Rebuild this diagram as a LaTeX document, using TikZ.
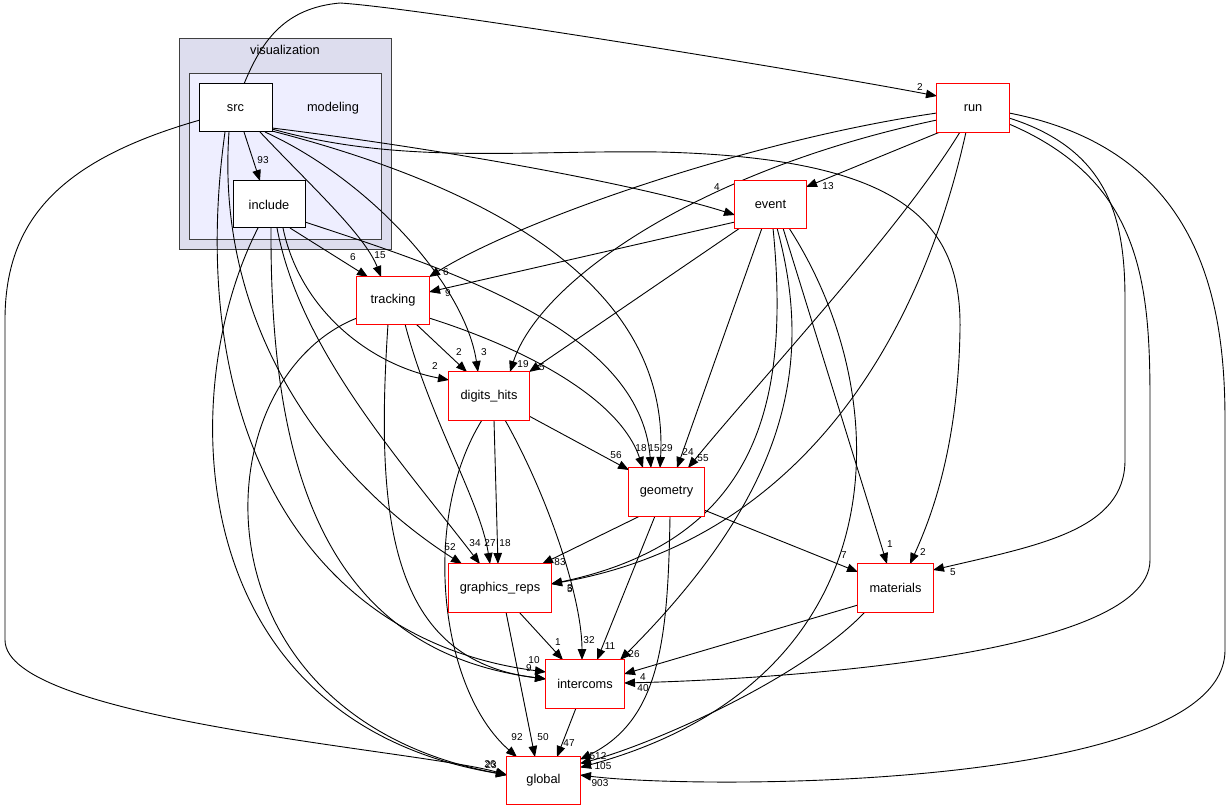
\documentclass[tikz,border=0pt]{standalone}
\usepackage{fontspec}
\setmainfont{Liberation Sans}
\usetikzlibrary{arrows.meta,calc}
\definecolor{clusterA}{HTML}{DDDDEE}
\definecolor{clusterB}{HTML}{EEEEFF}
\definecolor{clusterline}{HTML}{404040}
\definecolor{dirred}{HTML}{FF0000}
\pgfdeclarelayer{back}
\pgfdeclarelayer{edges}
\pgfdeclarelayer{front}
\pgfsetlayers{back,edges,main,front}
\tikzset{
 dirbox/.style={fill=white, text=black, inner sep=0pt, font=\fontsize{12.8}{14}\selectfont},
 ownbox/.style={draw=black, line width=1pt, fill=white, inner sep=0pt, font=\fontsize{12.8}{14}\selectfont},
 redframe/.style={draw=dirred, color=dirred, line width=1.1pt},
 clusterbox/.style={draw=clusterline, line width=1pt, inner sep=0pt, anchor=north west},
 clustertext/.style={inner sep=0pt, font=\fontsize{12.8}{14}\selectfont},
 dep/.style={draw=black, line width=0.9pt, -{Triangle[length=11pt,width=8.5pt]}},
 lab/.style={inner sep=0pt, font=\fontsize{10}{12}\selectfont},
}
\begin{document}
\begin{tikzpicture}[x=1pt,y=-1pt]
\useasboundingbox (0,0) rectangle (1232,810);
\begin{pgfonlayer}{back}
\fill[white] (0,0) rectangle (1232,810);
\node[clusterbox, fill=clusterA, minimum width=212pt, minimum height=211pt] (vis) at (179,38) {};
\node[clustertext] (vislabel) at (285,50) {visualization};
\node[clusterbox, fill=clusterB, minimum width=192pt, minimum height=166pt] (modcl) at (189,73) {};
\node[clustertext] (modlabel) at (333,108) {modeling};
\end{pgfonlayer}
% nodes
\node[ownbox, minimum width=73pt, minimum height=48pt] (src) at (235.5,108) {src};
\node[ownbox, minimum width=72pt, minimum height=47pt] (include) at (269,204.5) {include};
\node[dirbox, minimum width=72pt, minimum height=47pt] (tracking) at (393,300.5) {tracking};
\node[dirbox, minimum width=80pt, minimum height=48pt] (digits_hits) at (489,396) {digits\_hits};
\node[dirbox, minimum width=75pt, minimum height=48pt] (geometry) at (666.5,492) {geometry};
\node[dirbox, minimum width=102pt, minimum height=48pt] (graphics_reps) at (500,588) {graphics\_reps};
\node[dirbox, minimum width=78pt, minimum height=48pt] (intercoms) at (585,684) {intercoms};
\node[dirbox, minimum width=73pt, minimum height=47pt] (global) at (543.5,780.5) {global};
\node[dirbox, minimum width=75pt, minimum height=48pt] (materials) at (895.5,588) {materials};
\node[dirbox, minimum width=72pt, minimum height=48pt] (run) at (973,108) {run};
\node[dirbox, minimum width=71pt, minimum height=47pt] (event) at (770.5,204.5) {event};
\begin{pgfonlayer}{front}
\foreach \n in {tracking,digits_hits,geometry,graphics_reps,intercoms,global,materials,run,event}
  \draw[redframe] (\n.north west) rectangle (\n.south east);
\end{pgfonlayer}
\begin{pgfonlayer}{edges}
% edges from src
\draw[dep] ($(src)+(8.5,24)$) -- ($(include)+(-9,-23.5)$);
\draw[dep] ($(src)+(8.5,-24)$) .. controls (262,40) and (285,8) .. (340,3) .. controls (420,8) and (800,70) .. ($(run)+(-36,-12)$);
\draw[dep] ($(src)+(36.5,20)$) .. controls (450,150) and (640,185) .. ($(event)+(-35.5,10.5)$);
\draw[dep] ($(src)+(36.5,21)$) .. controls (400,165) and (520,150) .. (660,152) .. controls (900,158) and (962,220) .. (960,330) .. controls (958,450) and (930,520) .. ($(materials)+(14.5,-24)$);
\draw[dep] ($(src)+(36.5,23)$) .. controls (500,190) and (670,290) .. ($(geometry)+(-6.5,-24)$);
\draw[dep] ($(src)+(29.5,24)$) .. controls (370,180) and (465,285) .. ($(digits_hits)+(-11,-24)$);
\draw[dep] ($(src)+(24.5,24)$) .. controls (310,185) and (365,235) .. ($(tracking)+(-12,-23.5)$);
\draw[dep] ($(src)+(-6.5,24)$) .. controls (215,330) and (330,480) .. ($(graphics_reps)+(-38,-24)$);
\draw[dep] ($(src)+(-10.5,24)$) .. controls (185,420) and (300,640) .. ($(intercoms)+(-39,-12)$);
\draw[dep] ($(src)+(-35.5,12)$) .. controls (60,160) and (5,220) .. (5,320) -- (5,640) .. controls (5,720) and (420,750) .. ($(global)+(-36.5,-5.5)$);
% edges from include
\draw[dep] ($(include)+(21,23.5)$) -- ($(tracking)+(-25,-23.5)$);
\draw[dep] ($(include)+(36,17.5)$) .. controls (450,270) and (640,330) .. ($(geometry)+(-15.5,-24)$);
\draw[dep] ($(include)+(14,23.5)$) .. controls (300,310) and (370,365) .. ($(digits_hits)+(-40,-16)$);
\draw[dep] ($(include)+(8,23.5)$) .. controls (300,350) and (400,460) .. ($(graphics_reps)+(-20,-24)$);
\draw[dep] ($(include)+(2,23.5)$) .. controls (270,460) and (320,650) .. ($(intercoms)+(-39,-5)$);
\draw[dep] ($(include)+(-11,23.5)$) .. controls (175,390) and (180,720) .. ($(global)+(-36.5,-5.5)$);
% edges from tracking
\draw[dep] ($(tracking)+(23,23.5)$) -- ($(digits_hits)+(-22,-24)$);
\draw[dep] ($(tracking)+(12,23.5)$) .. controls (430,420) and (480,500) .. ($(graphics_reps)+(-10,-24)$);
\draw[dep] ($(tracking)+(36,17.5)$) .. controls (530,350) and (620,400) .. ($(geometry)+(-23.5,-24)$);
\draw[dep] ($(tracking)+(-5,23.5)$) .. controls (375,520) and (390,660) .. ($(intercoms)+(-39,-5)$);
\draw[dep] ($(tracking)+(-36,17.5)$) .. controls (200,380) and (185,715) .. ($(global)+(-36.5,-5.5)$);
% edges from digits_hits
\draw[dep] ($(digits_hits)+(40,20)$) -- ($(geometry)+(-37.5,-22)$);
\draw[dep] ($(digits_hits)+(5,24)$) -- ($(graphics_reps)+(-2,-24)$);
\draw[dep] ($(digits_hits)+(16,24)$) .. controls (550,500) and (582,600) .. ($(intercoms)+(-3,-24)$);
\draw[dep] ($(digits_hits)+(-7,24)$) .. controls (420,520) and (440,690) .. ($(global)+(-26.5,-23.5)$);
% edges from geometry
\draw[dep] ($(geometry)+(-26.5,24)$) -- ($(graphics_reps)+(42,-24)$);
\draw[dep] ($(geometry)+(-11.5,24)$) -- ($(intercoms)+(12,-24)$);
\draw[dep] ($(geometry)+(37.5,18)$) -- ($(materials)+(-37.5,-16)$);
\draw[dep] ($(geometry)+(3.5,24)$) .. controls (668,640) and (660,720) .. ($(global)+(36.5,-21)$);
% graphics_reps, intercoms
\draw[dep] ($(graphics_reps)+(19,24)$) -- ($(intercoms)+(-22,-24)$);
\draw[dep] ($(graphics_reps)+(6,24)$) -- ($(global)+(-8.5,-23.5)$);
\draw[dep] ($(intercoms)+(-9,24)$) -- ($(global)+(13.5,-23.5)$);
% materials
\draw[dep] ($(materials)+(-37.5,17)$) -- ($(intercoms)+(39,-10)$);
\draw[dep] ($(materials)+(-30.5,24)$) .. controls (800,680) and (650,745) .. ($(global)+(36.5,-17)$);
% event
\draw[dep] ($(event)+(-35.5,17.5)$) -- ($(tracking)+(36,-8.5)$);
\draw[dep] ($(event)+(-30.5,23.5)$) -- ($(digits_hits)+(40,-24)$);
\draw[dep] ($(event)+(-8.5,23.5)$) -- ($(geometry)+(10.5,-24)$);
\draw[dep] ($(event)+(2.5,23.5)$) .. controls (790,400) and (760,540) .. ($(graphics_reps)+(51,-4)$);
\draw[dep] ($(event)+(6.5,23.5)$) .. controls (810,350) and (800,480) .. ($(intercoms)+(35,-24)$);
\draw[dep] ($(event)+(12.5,23.5)$) -- ($(materials)+(-8.5,-24)$);
\draw[dep] ($(event)+(18.5,23.5)$) .. controls (900,400) and (900,680) .. ($(global)+(36.5,-13)$);
% run
\draw[dep] ($(run)+(-36,5)$) .. controls (750,140) and (520,220) .. ($(tracking)+(36,-23.5)$);
\draw[dep] ($(run)+(-36,12)$) .. controls (700,170) and (540,280) .. ($(digits_hits)+(21,-24)$);
\draw[dep] ($(run)+(-33,24)$) -- ($(event)+(35.5,-17.5)$);
\draw[dep] ($(run)+(-13,24)$) .. controls (900,230) and (760,380) .. ($(geometry)+(21.5,-24)$);
\draw[dep] ($(run)+(-7,24)$) .. controls (920,340) and (800,540) .. ($(graphics_reps)+(51,-4)$);
\draw[dep] ($(run)+(36,10)$) .. controls (1110,150) and (1125,220) .. (1125,300) -- (1125,460) .. controls (1125,530) and (1040,545) .. ($(materials)+(37.5,-18)$);
\draw[dep] ($(run)+(36,16)$) .. controls (1140,180) and (1150,280) .. (1150,400) -- (1150,560) .. controls (1150,660) and (750,680) .. ($(intercoms)+(39,-1)$);
\draw[dep] ($(run)+(36,5)$) .. controls (1200,150) and (1225,300) .. (1225,420) -- (1225,650) .. controls (1225,790) and (700,790) .. ($(global)+(36.5,-5.5)$);
\end{pgfonlayer}
% labels
\node[lab] (l01) at (263,160) {93};
\node[lab] (l02) at (920,87) {2};
\node[lab] (l03) at (717,187) {4};
\node[lab] (l04) at (923,552) {2};
\node[lab] (l05) at (641,448) {18};
\node[lab] (l06) at (654,448) {15};
\node[lab] (l07) at (667,448) {29};
\node[lab] (l08) at (688,452) {24};
\node[lab] (l09) at (703,458) {55};
\node[lab] (l10) at (616,455) {56};
\node[lab] (l11) at (484,352) {3};
\node[lab] (l12) at (380,255) {15};
\node[lab] (l13) at (353,257) {6};
\node[lab] (l14) at (446,272) {6};
\node[lab] (l15) at (448,293) {9};
\node[lab] (l16) at (459,352) {2};
\node[lab] (l17) at (435,366) {2};
\node[lab] (l18) at (523,364) {19};
\node[lab] (l19) at (542,367) {5};
\node[lab] (l20) at (450,547) {52};
\node[lab] (l21) at (475,543) {34};
\node[lab] (l22) at (490,543) {27};
\node[lab] (l23) at (505,543) {18};
\node[lab] (l24) at (560,562) {83};
\node[lab] (l25) at (570,588) {3};
\node[lab] (l26) at (570,589) {5};
\node[lab] (l27) at (534,660) {10};
\node[lab] (l28) at (529,668) {9};
\node[lab] (l29) at (558,642) {1};
\node[lab] (l30) at (589,640) {32};
\node[lab] (l31) at (610,646) {11};
\node[lab] (l32) at (634,654) {26};
\node[lab] (l33) at (643,677) {4};
\node[lab] (l34) at (643,688) {40};
\node[lab] (l35) at (517,737) {92};
\node[lab] (l36) at (543,737) {50};
\node[lab] (l37) at (569,743) {47};
\node[lab] (l38) at (490,764) {26};
\node[lab] (l39) at (491,765) {23};
\node[lab] (l40) at (598,756) {512};
\node[lab] (l41) at (603,766) {105};
\node[lab] (l42) at (600,783) {903};
\node[lab] (l43) at (844,555) {7};
\node[lab] (l44) at (890,544) {1};
\node[lab] (l45) at (953,572) {5};
\node[lab] (l46) at (828,186) {13};
\end{tikzpicture}
\end{document}
